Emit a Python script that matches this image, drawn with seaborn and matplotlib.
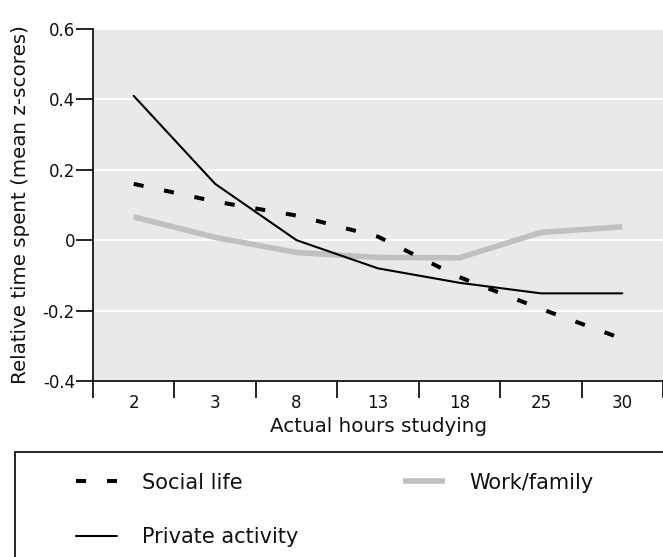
import matplotlib
matplotlib.use("Agg")
import pandas as pd
import matplotlib.pyplot as plt
import seaborn as sns
from matplotlib.patches import Rectangle
from matplotlib.lines import Line2D

# Data
hours = ['2', '3', '8', '13', '18', '25', '30']
social_life = [0.16, 0.11, 0.07, 0.01, -0.105, -0.195, -0.28]
work_family = [0.066, 0.008, -0.035, -0.049, -0.05, 0.022, 0.038]
private_activity = [0.41, 0.16, 0.0, -0.08, -0.121, -0.151, -0.151]
y_ticks = [-0.4, -0.2, 0, 0.2, 0.4, 0.6]
y_tick_labels = ['-0.4', '-0.2', '0', '0.2', '0.4', '0.6']

df = pd.DataFrame({'hours': hours, 'Social life': social_life,
                   'Work/family': work_family, 'Private activity': private_activity})

sns.set_style("white")
plt.rcParams['font.family'] = ['DejaVu Sans']
plt.rcParams['text.color'] = '#111111'
plt.rcParams['axes.labelcolor'] = '#111111'

fig = plt.figure(figsize=(6.63, 5.57), dpi=100)
ax = fig.add_axes([93 / 663, 1 - 381 / 557, 570 / 663, 352 / 557])
ax.set_facecolor('#e9e9e9')

sns.lineplot(data=df, x='hours', y='Work/family', sort=False, ax=ax,
             color='#c0c0c0', linewidth=4.0, solid_capstyle='butt')
sns.lineplot(data=df, x='hours', y='Social life', sort=False, ax=ax,
             color='black', linewidth=2.9, linestyle=(0, (2.5, 5.2)))
sns.lineplot(data=df, x='hours', y='Private activity', sort=False, ax=ax,
             color='black', linewidth=1.5)

ax.set_xlim(-0.5, 6.5)
ax.set_ylim(-0.4, 0.6)
ax.set_yticks(y_ticks)
ax.set_yticklabels(y_tick_labels, fontsize=12)
ax.set_xticks(range(len(hours)))
ax.set_xticklabels(hours, fontsize=12)
ax.set_xticks([i - 0.5 for i in range(len(hours) + 1)], minor=True)
ax.tick_params(axis='x', which='major', length=0, pad=9, labelcolor='#111111')
ax.tick_params(axis='x', which='minor', bottom=True, length=12, width=1.2,
               color='black', direction='out')
ax.tick_params(axis='y', length=12, width=1.2, color='black', direction='out', pad=1,
               left=True, labelcolor='#111111')
ax.grid(axis='y', color='white', linewidth=1.2)
ax.set_axisbelow(True)

for s in ['top', 'right']:
    ax.spines[s].set_visible(False)
for s in ['left', 'bottom']:
    ax.spines[s].set_color('black')
    ax.spines[s].set_linewidth(1.2)

ax.set_xlabel('Actual hours studying', fontsize=14.3, labelpad=4)
ax.set_ylabel('Relative time spent (mean z-scores)', fontsize=14.3, labelpad=9)

# legend box running off the figure edge
fig.patches.append(Rectangle((15 / 663, -0.05), 1.0, 1 - 452 / 557 + 0.05,
                             transform=fig.transFigure, fill=False,
                             edgecolor='black', linewidth=1.2))
handles = [
    Line2D([], [], color='black', linewidth=2.9, linestyle=(0, (2.5, 5.2))),
    Line2D([], [], color='black', linewidth=1.5),
    Line2D([], [], color='#c0c0c0', linewidth=4.0, solid_capstyle='butt'),
]
labels = ['Social life', 'Private activity', 'Work/family']
fig.legend(handles, labels, loc='upper left', bbox_to_anchor=(57 / 663, 1 - 454 / 557),
           ncol=2, frameon=False, fontsize=15, handlelength=2.0,
           handletextpad=1.2, columnspacing=5.0, labelspacing=1.65)

fig.savefig('out.png', dpi=100)
